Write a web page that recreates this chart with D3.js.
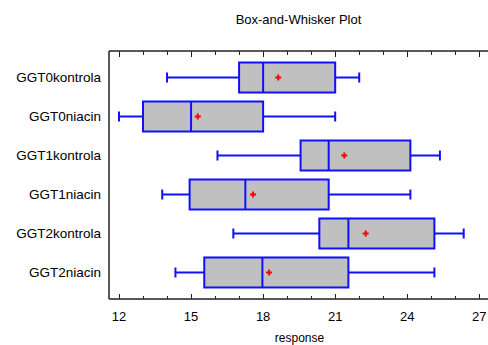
<!DOCTYPE html>
<html><head><meta charset="utf-8">
<script src="https://cdn.jsdelivr.net/npm/d3@7"></script>
<style>body{margin:0;background:#fff}svg{display:block}text{font-family:"Liberation Sans",Arial,sans-serif;fill:#000}</style>
</head><body>
<svg id="c" width="488" height="345"></svg>
<script>
const categories = ["GGT0kontrola","GGT0niacin","GGT1kontrola","GGT1niacin","GGT2kontrola","GGT2niacin"];
const mins    = [14.0, 12.0, 16.1, 13.8, 16.76, 14.35];
const q1s     = [17.0, 13.0, 19.56, 14.94, 20.34, 15.55];
const medians = [18.0, 15.0, 20.73, 17.26, 21.55, 17.97];
const means   = [18.63, 15.28, 21.38, 17.58, 22.27, 18.25];
const q3s     = [21.0, 18.0, 24.13, 20.73, 25.13, 21.55];
const maxs    = [22.0, 21.0, 25.36, 24.13, 26.35, 25.13];
const majorTicks = [12, 15, 18, 21, 24, 27];
const minorTicks = d3.range(12, 28, 1);
const title = "Box-and-Whisker Plot";
const xLabel = "response";

const svg = d3.select("#c");
const L = 109, R = 488, T = 51, B = 299;
const x = d3.scaleLinear().domain([11.584, 27.362]).range([L, R]);
const y = d3.scalePoint().domain(categories).range([T, B]).padding(0.68);

const data = categories.map((c, i) => ({c, min: mins[i], q1: q1s[i], med: medians[i], mean: means[i], q3: q3s[i], max: maxs[i]}));

// title
svg.append("text").attr("x", (L + R) / 2).attr("y", 24).attr("text-anchor", "middle")
  .style("font-size", "13px").text(title);

// frame lines
const axisColor = "#222";
svg.append("line").attr("x1", L).attr("x2", R).attr("y1", T).attr("y2", T).attr("stroke", axisColor).attr("stroke-width", 1.5);
svg.append("line").attr("x1", L).attr("x2", L).attr("y1", T).attr("y2", B).attr("stroke", axisColor).attr("stroke-width", 1.5);
svg.append("line").attr("x1", L).attr("x2", R).attr("y1", B).attr("y2", B).attr("stroke", axisColor).attr("stroke-width", 1.5);

// ticks
const isMajor = v => majorTicks.includes(v);
svg.append("g").selectAll("line.tt").data(minorTicks).join("line")
  .attr("x1", d => Math.round(x(d)) + 0.5).attr("x2", d => Math.round(x(d)) + 0.5)
  .attr("y1", T).attr("y2", d => T + (isMajor(d) ? 6 : 4))
  .attr("stroke", axisColor).attr("stroke-width", 1);
svg.append("g").selectAll("line.bt").data(minorTicks).join("line")
  .attr("x1", d => Math.round(x(d)) + 0.5).attr("x2", d => Math.round(x(d)) + 0.5)
  .attr("y1", B).attr("y2", d => B - (isMajor(d) ? 5 : 3))
  .attr("stroke", axisColor).attr("stroke-width", 1);

svg.append("g").selectAll("text").data(majorTicks).join("text")
  .attr("x", d => x(d)).attr("y", 321).attr("text-anchor", "middle")
  .style("font-size", "13px").text(d => d);

svg.append("text").attr("x", (L + R) / 2 + 1).attr("y", 342).attr("text-anchor", "middle")
  .style("font-size", "12px").text(xLabel);

// category labels
svg.append("g").selectAll("text").data(categories).join("text")
  .attr("x", 101).attr("y", d => y(d)).attr("dy", "0.36em").attr("text-anchor", "end")
  .style("font-size", "13.5px").text(d => d);

// boxes
const blue = "#1010ff";
const bh = 30, cap = 10;
const g = svg.append("g").selectAll("g").data(data).join("g");
g.append("line").attr("x1", d => x(d.min)).attr("x2", d => x(d.q1)).attr("y1", d => y(d.c)).attr("y2", d => y(d.c)).attr("stroke", blue).attr("stroke-width", 2);
g.append("line").attr("x1", d => x(d.q3)).attr("x2", d => x(d.max)).attr("y1", d => y(d.c)).attr("y2", d => y(d.c)).attr("stroke", blue).attr("stroke-width", 2);
g.append("line").attr("x1", d => x(d.min)).attr("x2", d => x(d.min)).attr("y1", d => y(d.c) - cap / 2).attr("y2", d => y(d.c) + cap / 2).attr("stroke", blue).attr("stroke-width", 2);
g.append("line").attr("x1", d => x(d.max)).attr("x2", d => x(d.max)).attr("y1", d => y(d.c) - cap / 2).attr("y2", d => y(d.c) + cap / 2).attr("stroke", blue).attr("stroke-width", 2);
g.append("rect").attr("x", d => x(d.q1)).attr("y", d => y(d.c) - bh / 2).attr("width", d => x(d.q3) - x(d.q1)).attr("height", bh)
  .attr("fill", "#c0c0c0").attr("stroke", blue).attr("stroke-width", 2);
g.append("line").attr("x1", d => x(d.med)).attr("x2", d => x(d.med)).attr("y1", d => y(d.c) - bh / 2).attr("y2", d => y(d.c) + bh / 2).attr("stroke", blue).attr("stroke-width", 2);
// mean markers
g.append("path").attr("d", d => {
  const cx = x(d.mean), cy = y(d.c);
  return `M${cx - 3},${cy}H${cx + 3}M${cx},${cy - 3}V${cy + 3}`;
}).attr("stroke", "#ff0000").attr("stroke-width", 2);
</script>
</body></html>
